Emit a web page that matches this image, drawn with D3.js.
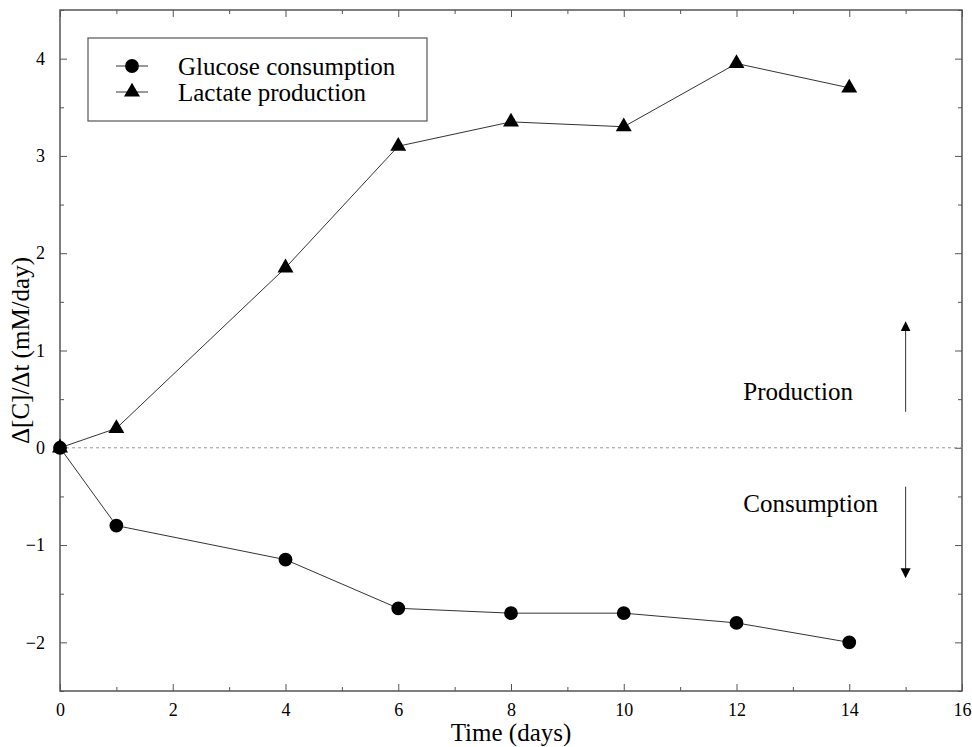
<!DOCTYPE html>
<html>
<head>
<meta charset="utf-8">
<script src="https://cdn.jsdelivr.net/npm/d3@7"></script>
<style>
  body { margin: 0; background: #fff; }
  svg text { font-family: "Liberation Serif", "Times New Roman", serif; fill: #000; }
</style>
</head>
<body>
<svg id="chart" width="972" height="747"></svg>
<script>
// values
const days = [0, 1, 4, 6, 8, 10, 12, 14];
const glucose = [0, -0.8, -1.15, -1.65, -1.7, -1.7, -1.8, -2.0];
const lactate = [0, 0.2, 1.85, 3.1, 3.35, 3.3, 3.95, 3.7];
const xMajor = [0, 2, 4, 6, 8, 10, 12, 14, 16];
const yMajor = [-2, -1, 0, 1, 2, 3, 4];

const svg = d3.select("svg#chart");
const margin = { top: 10, right: 10, bottom: 56, left: 60 };
const width = +svg.attr("width") - margin.left - margin.right;
const height = +svg.attr("height") - margin.top - margin.bottom;

const x = d3.scaleLinear([0, 16], [0, width]);
const y = d3.scaleLinear([-2.5, 4.5], [height, 0]);

const g = svg.append("g").attr("transform", `translate(${margin.left},${margin.top})`);
const frameColor = "#555";

// minor + major ticks on all four sides, pointing inward
const xMinor = d3.range(0, 17, 1).filter((d) => d % 2);
const yMinor = d3.range(-2.5, 4.6, 0.5).filter((d) => d % 1 !== 0);

function styleAxis(sel) {
	sel.select(".domain").remove();
	sel.selectAll("line").attr("stroke", frameColor);
	sel.selectAll("text").style("font-size", "18px");
}

g.append("g").attr("transform", `translate(0,${height})`)
	.call(d3.axisBottom(x).tickValues(xMajor).tickSize(-7).tickPadding(12).tickFormat(d3.format("d")))
	.call(styleAxis);
g.append("g").attr("transform", `translate(0,${height})`)
	.call(d3.axisBottom(x).tickValues(xMinor).tickSize(-4).tickFormat(""))
	.call(styleAxis);
g.append("g")
	.call(d3.axisTop(x).tickValues(xMajor).tickSize(-7).tickFormat(""))
	.call(styleAxis);
g.append("g")
	.call(d3.axisTop(x).tickValues(xMinor).tickSize(-4).tickFormat(""))
	.call(styleAxis);

g.append("g")
	.call(d3.axisLeft(y).tickValues(yMajor).tickSize(-7).tickPadding(15).tickFormat(d3.format("d")))
	.call(styleAxis);
g.append("g")
	.call(d3.axisLeft(y).tickValues(yMinor).tickSize(-4).tickFormat(""))
	.call(styleAxis);
g.append("g").attr("transform", `translate(${width},0)`)
	.call(d3.axisRight(y).tickValues(yMajor).tickSize(-7).tickFormat(""))
	.call(styleAxis);
g.append("g").attr("transform", `translate(${width},0)`)
	.call(d3.axisRight(y).tickValues(yMinor).tickSize(-4).tickFormat(""))
	.call(styleAxis);

// frame
g.append("rect")
	.attr("width", width)
	.attr("height", height)
	.attr("fill", "none")
	.attr("stroke", frameColor)
	.attr("stroke-width", 1.5);

// zero line
g.append("line")
	.attr("x1", 0).attr("x2", width)
	.attr("y1", y(0)).attr("y2", y(0))
	.attr("stroke", "#999")
	.attr("stroke-dasharray", "3,3");

const line = d3.line().x((d) => x(d[0])).y((d) => y(d[1]));
const circle = d3.symbol(d3.symbolCircle, 150);
const triangle = d3.symbol(d3.symbolTriangle, 110);

const series = [
	{ name: "Lactate production", values: d3.zip(days, lactate), symbol: triangle },
	{ name: "Glucose consumption", values: d3.zip(days, glucose), symbol: circle }
];

series.forEach((s) => {
	g.append("path")
		.datum(s.values)
		.attr("d", line)
		.attr("fill", "none")
		.attr("stroke", "#333")
		.attr("stroke-width", 1);
	g.selectAll(null)
		.data(s.values)
		.join("path")
		.attr("transform", (d) => `translate(${x(d[0])},${y(d[1])})`)
		.attr("d", s.symbol)
		.attr("fill", "#000");
});

// legend
const legend = svg.append("g").attr("transform", "translate(88,38)");
legend.append("rect")
	.attr("width", 339)
	.attr("height", 83)
	.attr("fill", "#fff")
	.attr("stroke", frameColor)
	.attr("stroke-width", 1.2);
[series[1], series[0]].forEach((s, i) => {
	const row = legend.append("g").attr("transform", `translate(0,${28 + i * 26})`);
	row.append("line").attr("x1", 28).attr("x2", 60).attr("stroke", "#333");
	row.append("path").attr("transform", "translate(44,0)").attr("d", s.symbol).attr("fill", "#000");
	row.append("text")
		.attr("x", 90)
		.attr("dy", "0.35em")
		.style("font-size", "25px")
		.text(s.name);
});

// direction arrows
const defs = svg.append("defs");
defs.append("marker")
	.attr("id", "head")
	.attr("viewBox", "0 0 10 10")
	.attr("refX", 9).attr("refY", 5)
	.attr("markerWidth", 10).attr("markerHeight", 14)
	.attr("markerUnits", "userSpaceOnUse")
	.attr("orient", "auto")
	.append("path")
	.attr("d", "M0,0 L10,5 L0,10 z")
	.attr("fill", "#000");

const arrows = [
	{ label: "Production", from: 0.37, to: 1.29, textY: 0.58 },
	{ label: "Consumption", from: -0.4, to: -1.33, textY: -0.57 }
];
arrows.forEach((a) => {
	g.append("line")
		.attr("x1", x(15)).attr("x2", x(15))
		.attr("y1", y(a.from)).attr("y2", y(a.to))
		.attr("stroke", "#333")
		.attr("marker-end", "url(#head)");
	g.append("text")
		.attr("x", x(12.12))
		.attr("y", y(a.textY))
		.attr("dy", "0.35em")
		.style("font-size", "25px")
		.text(a.label);
});

// axis titles
svg.append("text")
	.attr("x", margin.left + x(8))
	.attr("y", 741)
	.attr("text-anchor", "middle")
	.style("font-size", "25px")
	.text("Time (days)");
svg.append("text")
	.attr("transform", `translate(29,${margin.top + y(1)}) rotate(-90)`)
	.attr("text-anchor", "middle")
	.style("font-size", "25px")
	.text("Δ[C]/Δt (mM/day)");
</script>
</body>
</html>
